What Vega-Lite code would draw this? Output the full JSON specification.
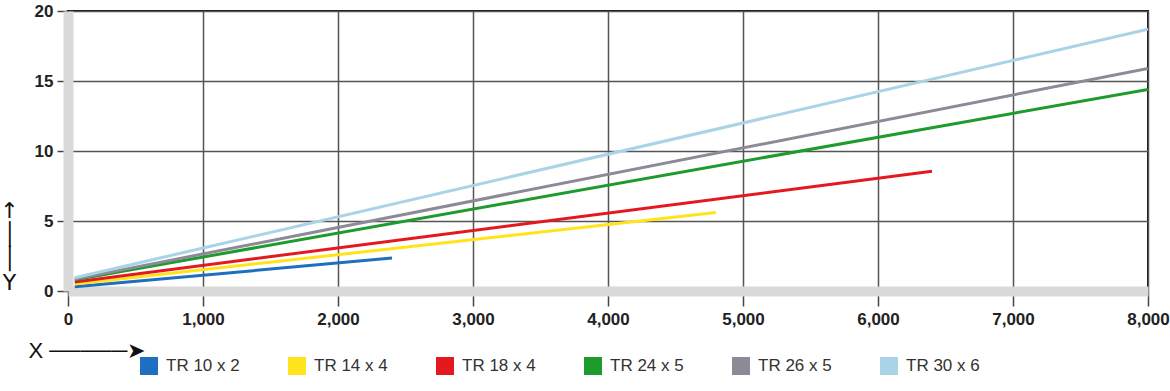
{
  "$schema": "https://vega.github.io/schema/vega-lite/v6.json",
  "width": 1080,
  "height": 280,
  "autosize": {"type": "none"},
  "padding": {"left": 68, "top": 11, "right": 22, "bottom": 100},
  "background": "white",
  "data": {
    "values": [
      {"series": "TR 10 x 2", "x": 50, "y": 0.3},
      {"series": "TR 10 x 2", "x": 2400, "y": 2.35},
      {"series": "TR 14 x 4", "x": 50, "y": 0.5},
      {"series": "TR 14 x 4", "x": 4800, "y": 5.6},
      {"series": "TR 18 x 4", "x": 50, "y": 0.65},
      {"series": "TR 18 x 4", "x": 6400, "y": 8.55},
      {"series": "TR 24 x 5", "x": 50, "y": 0.8},
      {"series": "TR 24 x 5", "x": 8000, "y": 14.4},
      {"series": "TR 26 x 5", "x": 50, "y": 0.85},
      {"series": "TR 26 x 5", "x": 8000, "y": 15.9},
      {"series": "TR 30 x 6", "x": 50, "y": 0.95},
      {"series": "TR 30 x 6", "x": 8000, "y": 18.7}
    ]
  },
  "mark": {"type": "line", "strokeWidth": 3, "clip": true},
  "encoding": {
    "x": {
      "field": "x",
      "type": "quantitative",
      "scale": {"domain": [0, 8000], "nice": false, "zero": false},
      "axis": {
        "values": [0, 1000, 2000, 3000, 4000, 5000, 6000, 7000, 8000],
        "format": ",.0f",
        "grid": true,
        "gridColor": "#555555",
        "gridWidth": 1.5,
        "gridOpacity": 1,
        "domainColor": "#dadada",
        "domainWidth": 10,
        "tickColor": "#444444",
        "tickWidth": 1.5,
        "tickSize": 15,
        "labelPadding": 5,
        "labelFont": "Liberation Sans",
        "labelFontSize": 17,
        "labelFontWeight": "bold",
        "labelColor": "#222222",
        "labelFlush": false,
        "labelOverlap": false,
        "title": "X ─────➤",
        "titleFont": "Liberation Sans",
        "titleFontSize": 22,
        "titleFontWeight": "normal",
        "titleColor": "#111111",
        "titleAlign": "left",
        "titleBaseline": "alphabetic",
        "titleX": -40,
        "titleY": 66
      }
    },
    "y": {
      "field": "y",
      "type": "quantitative",
      "scale": {"domain": [0, 20], "nice": false},
      "axis": {
        "values": [0, 5, 10, 15, 20],
        "grid": true,
        "gridColor": "#555555",
        "gridWidth": 1.5,
        "gridOpacity": 1,
        "domainColor": "#dadada",
        "domainWidth": 10,
        "tickColor": "#444444",
        "tickWidth": 1.5,
        "tickSize": 11,
        "labelPadding": 4,
        "labelFont": "Liberation Sans",
        "labelFontSize": 17,
        "labelFontWeight": "bold",
        "labelColor": "#222222",
        "labelFlush": false,
        "title": ["↑", "│", "│", "Y"],
        "titleFont": "DejaVu Sans",
        "titleFontSize": 22,
        "titleFontWeight": "normal",
        "titleColor": "#111111",
        "titleLineHeight": 24,
        "titleAngle": 0,
        "titleAlign": "center",
        "titleBaseline": "top",
        "titleX": -59,
        "titleY": 189
      }
    },
    "color": {
      "field": "series",
      "type": "nominal",
      "scale": {
        "domain": ["TR 10 x 2", "TR 14 x 4", "TR 18 x 4", "TR 24 x 5", "TR 26 x 5", "TR 30 x 6"],
        "range": ["#1f6fc0", "#ffe41c", "#e3191f", "#1e9b2d", "#8c8a96", "#a9d3e6"]
      },
      "legend": {
        "orient": "none",
        "direction": "horizontal",
        "legendX": 72,
        "legendY": 346,
        "title": null,
        "symbolType": "square",
        "symbolSize": 64,
        "symbolStrokeWidth": 10,
        "symbolOpacity": 1,
        "labelFont": "Liberation Sans",
        "labelFontSize": 17,
        "labelColor": "#333333",
        "labelOffset": 8,
        "gridAlign": "all",
        "columnPadding": 33,
        "columns": 6
      }
    }
  },
  "config": {
    "view": {"stroke": "#111111", "strokeWidth": 2}
  }
}
